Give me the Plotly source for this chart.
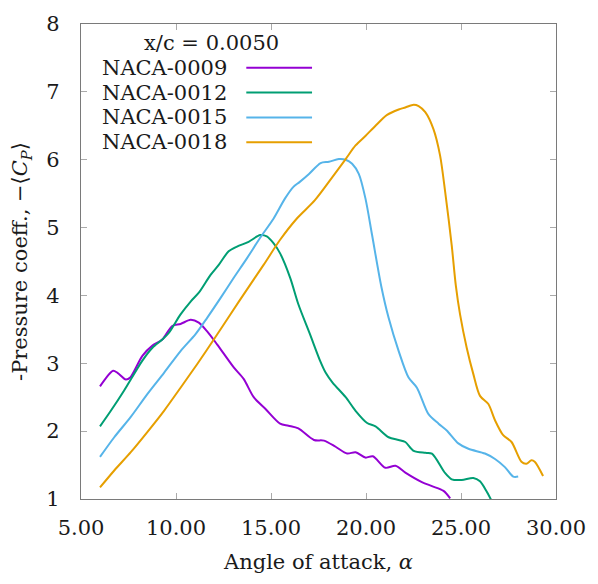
import plotly.graph_objects as go

# ---- data ----
series_names = ["NACA-0009", "NACA-0012", "NACA-0015", "NACA-0018"]
series_colors = ["#9400D3", "#009E73", "#56B4E9", "#E69F00"]
legend_title = "x/c = 0.0050"

x_0009 = [6.0, 6.69, 6.92, 7.36, 7.59, 8.23, 8.76, 9.28, 9.80, 10.24, 10.77, 11.20, 11.64, 12.16,
          13.04, 13.56, 14.09, 14.70, 15.48, 15.92, 16.44, 17.26, 17.79, 18.40, 19.01, 19.45,
          19.97, 20.36, 21.02, 21.55, 22.07, 22.94, 23.47, 24.08, 24.43]
y_0009 = [2.66, 2.89, 2.86, 2.76, 2.79, 3.11, 3.26, 3.35, 3.55, 3.58, 3.64, 3.60, 3.47, 3.28,
          2.94, 2.77, 2.50, 2.33, 2.11, 2.08, 2.04, 1.87, 1.86, 1.77, 1.67, 1.69,
          1.61, 1.63, 1.46, 1.49, 1.39, 1.25, 1.19, 1.12, 1.01]

x_0012 = [6.0, 6.57, 7.27, 8.23, 8.76, 9.28, 9.63, 10.24, 10.77, 11.20, 11.81, 12.25, 12.77,
          13.21, 13.82, 14.43, 14.78, 15.13, 15.48, 16.01, 16.44, 17.05, 17.58, 17.88, 18.23,
          18.93, 19.45, 20.06, 20.50, 21.19, 21.72, 22.07, 22.51, 23.12, 23.47, 24.17, 24.51,
          25.04, 25.65, 26.00, 26.35, 26.58]
y_0012 = [2.07, 2.30, 2.60, 3.04, 3.23, 3.35, 3.45, 3.72, 3.91, 4.04, 4.30, 4.45, 4.65,
          4.72, 4.79, 4.89, 4.87, 4.77, 4.62, 4.26, 3.87, 3.43, 3.04, 2.86, 2.72,
          2.50, 2.30, 2.12, 2.07, 1.91, 1.87, 1.84, 1.71, 1.68, 1.67, 1.38, 1.29,
          1.28, 1.31, 1.26, 1.11, 0.99]

x_0015 = [6.0, 6.75, 7.62, 8.50, 9.37, 10.24, 11.03, 11.64, 12.34, 13.04, 13.74, 14.43, 15.13,
          15.74, 16.18, 16.50, 17.00, 17.61, 18.05, 18.57, 18.93, 19.27, 19.62, 19.97, 20.32,
          20.80, 21.19, 21.72, 22.24, 22.68, 23.29, 23.82, 24.25, 24.86, 25.39, 26.26, 26.79,
          27.31, 27.75, 28.01]
y_0015 = [1.62, 1.91, 2.21, 2.55, 2.86, 3.18, 3.43, 3.67, 3.96, 4.26, 4.55, 4.85, 5.13,
          5.43, 5.60, 5.67, 5.79, 5.95, 5.97, 6.01, 6.00, 5.94, 5.79, 5.43, 4.89,
          4.14, 3.67, 3.18, 2.79, 2.64, 2.25, 2.11, 2.01, 1.82, 1.74, 1.67, 1.59,
          1.47, 1.33, 1.33]

x_0018 = [6.0, 6.75, 7.62, 8.50, 9.37, 10.24, 11.12, 11.99, 12.86, 13.74, 14.61, 15.48, 16.35,
          17.30, 18.22, 18.93, 19.45, 19.97, 20.50, 21.11, 21.72, 22.07, 22.51, 22.77, 23.12,
          23.55, 23.90, 24.17, 24.51, 24.73, 24.95, 25.30, 25.65, 26.00, 26.44, 26.79, 27.22,
          27.66, 28.18, 28.44, 28.71, 28.88, 29.32]
y_0018 = [1.17, 1.42, 1.69, 1.99, 2.30, 2.64, 2.99, 3.35, 3.72, 4.09, 4.45, 4.82, 5.13,
          5.40, 5.74, 6.01, 6.21, 6.35, 6.50, 6.66, 6.74, 6.77, 6.81, 6.79, 6.70,
          6.45, 6.06, 5.52, 4.74, 4.14, 3.72, 3.23, 2.84, 2.52, 2.40, 2.16, 1.94,
          1.84, 1.55, 1.52, 1.57, 1.55, 1.34]

x_ticks = [5, 10, 15, 20, 25, 30]
y_ticks = [1, 2, 3, 4, 5, 6, 7, 8]

xs = [x_0009, x_0012, x_0015, x_0018]
ys = [y_0009, y_0012, y_0015, y_0018]

FONT = "DejaVu Serif"
FS = 21
TXT = "#1a1a1a"
AXC = "#7a7a7a"

fig = go.Figure()
for name, color, x, y in zip(series_names, series_colors, xs, ys):
    fig.add_trace(go.Scatter(x=x, y=y, mode="lines", name=name,
                             line=dict(color=color, width=2, shape="spline", smoothing=0.8),
                             showlegend=False))

# manual legend: text on the left, line sample on the right
fig.add_annotation(xref="paper", yref="paper", x=0.2746, y=0.960, text=legend_title,
                   showarrow=False, xanchor="center", yanchor="middle",
                   font=dict(family=FONT, size=FS, color=TXT))
row_y = [0.908, 0.8556, 0.8033, 0.751]
for name, color, ry in zip(series_names, series_colors, row_y):
    fig.add_annotation(xref="paper", yref="paper", x=0.3124, y=ry, text=name,
                       showarrow=False, xanchor="right", yanchor="middle",
                       font=dict(family=FONT, size=FS, color=TXT))
    fig.add_shape(type="line", xref="paper", yref="paper", x0=0.348, x1=0.4864, y0=ry, y1=ry,
                  line=dict(color=color, width=2))

fig.update_layout(
    width=598, height=584,
    margin=dict(l=81, r=40, t=21, b=85),
    paper_bgcolor="white", plot_bgcolor="white",
    font=dict(family=FONT, size=FS, color=TXT),
)
fig.update_xaxes(range=[5, 30], tickvals=x_ticks, ticktext=[f"{v:.2f}" for v in x_ticks],
                 showgrid=False, zeroline=False, showline=True, linecolor=AXC, linewidth=1.3,
                 mirror="ticks", ticks="inside", ticklen=6, tickcolor="#aaaaaa", tickwidth=1,
                 ticklabelstandoff=10, tickfont=dict(family=FONT, size=FS, color=TXT),
                 title=dict(text="Angle of attack, <i>α</i>", standoff=14,
                            font=dict(family=FONT, size=FS, color=TXT)))
fig.update_yaxes(range=[1, 8], tickvals=y_ticks, ticktext=[str(v) for v in y_ticks],
                 showgrid=False, zeroline=False, showline=True, linecolor=AXC, linewidth=1.3,
                 mirror="ticks", ticks="inside", ticklen=6, tickcolor="#aaaaaa", tickwidth=1,
                 ticklabelstandoff=16, tickfont=dict(family=FONT, size=FS, color=TXT),
                 title=dict(text="-Pressure coeff., −⟨<i>C</i><sub><i>P</i></sub>⟩", standoff=12,
                            font=dict(family=FONT, size=FS, color=TXT)))

fig.write_html("out.html")
